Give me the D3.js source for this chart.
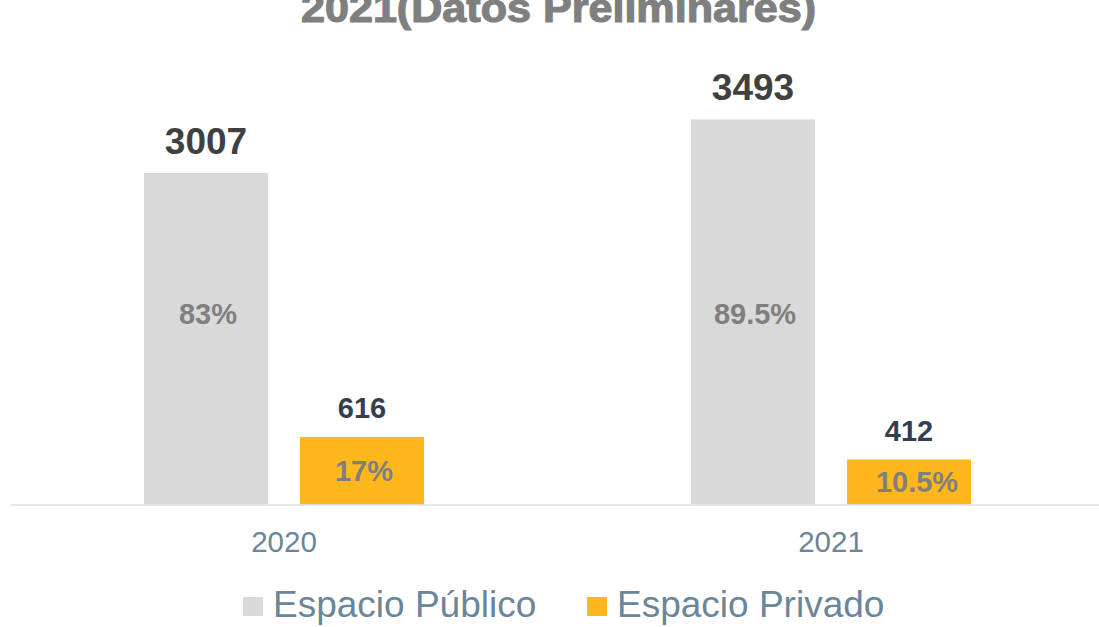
<!DOCTYPE html>
<html>
<head>
<meta charset="utf-8">
<script src="https://cdn.jsdelivr.net/npm/d3@7"></script>
<style>
  html, body { margin: 0; padding: 0; background: #ffffff; }
  svg { display: block; font-family: "Liberation Sans", Arial, sans-serif; }
</style>
</head>
<body>
<svg id="chart" width="1099" height="627"></svg>
<script>
// ---- data ----
const categories = ["2020", "2021"];
const seriesNames = ["Espacio Público", "Espacio Privado"];
const publicValues = [3007, 3493];
const privateValues = [616, 412];
const publicPct = ["83%", "89.5%"];
const privatePct = ["17%", "10.5%"];
const titleText = "2021(Datos Preliminares)";
const colors = ["#d9d9d9", "#ffb71b"];

// ---- layout ----
const W = 1099, H = 627;
const svg = d3.select("#chart");
const baseY = 505;

const x0 = d3.scaleBand().domain(categories).range([10.5, 1104.5]).padding(0);
const x1 = d3.scaleBand().domain(seriesNames).range([133.5, 413.5]).paddingInner(0.205).paddingOuter(0);
const y = d3.scaleLinear().domain([0, 4000]).range([baseY, baseY - 0.1104 * 4000]);

const rows = [];
categories.forEach((c, i) => {
  rows.push({cat: c, s: 0, v: publicValues[i], pct: publicPct[i]});
  rows.push({cat: c, s: 1, v: privateValues[i], pct: privatePct[i]});
});

// title (first line cut off above the frame, as in the reference)
svg.append("text")
  .attr("x", 558.5).attr("y", 22)
  .attr("text-anchor", "middle")
  .attr("font-size", 40).attr("font-weight", "bold")
  .attr("fill", "#7f7f7f").attr("stroke", "#7f7f7f").attr("stroke-width", 1.2)
  .attr("textLength", 515).attr("lengthAdjust", "spacingAndGlyphs")
  .text(titleText);

// bars
svg.append("g").selectAll("rect").data(rows).join("rect")
  .attr("x", d => x0(d.cat) + x1(seriesNames[d.s]))
  .attr("width", x1.bandwidth())
  .attr("y", d => y(d.v))
  .attr("height", d => y(0) - y(d.v))
  .attr("fill", d => colors[d.s]);

// axis baseline
const xAxis = d3.axisBottom(x0).tickSize(0).tickPadding(0);
const axisG = svg.append("g").attr("transform", `translate(0,${baseY})`).call(xAxis);
axisG.select(".domain").remove();
axisG.append("line").attr("x1", 11).attr("x2", W).attr("y1", 0).attr("y2", 0)
  .attr("stroke", "#dfe4e9").attr("stroke-width", 2).attr("opacity", 0.85);
axisG.selectAll(".tick text")
  .attr("y", 47).attr("dy", 0)
  .attr("font-size", 29.5).attr("fill", "#6b8599")
  .attr("font-family", "Liberation Sans, Arial, sans-serif");

// value labels
svg.append("g").selectAll("text").data(rows).join("text")
  .attr("x", d => x0(d.cat) + x1(seriesNames[d.s]) + x1.bandwidth() / 2)
  .attr("y", d => y(d.v) - 19)
  .attr("text-anchor", "middle")
  .attr("font-weight", "bold")
  .attr("font-size", d => d.s === 0 ? 37 : 29)
  .attr("fill", d => d.s === 0 ? "#404040" : "#323f4f")
  .text(d => d.v);

// percentage labels
const maxPublic = d3.max(publicValues);
svg.append("g").selectAll("text").data(rows).join("text")
  .attr("x", d => x0(d.cat) + x1(seriesNames[d.s]) + x1.bandwidth() / 2 + (d.s === 1 && d.pct.length > 3 ? 8 : 2))
  .attr("y", d => d.s === 0 ? (y(0) + y(maxPublic)) / 2 + 12 : (y(0) + y(d.v)) / 2 + 10)
  .attr("text-anchor", "middle")
  .attr("font-weight", "bold")
  .attr("font-size", 29)
  .attr("fill", "#7f7f7f")
  .text(d => d.pct);

// legend
const legendX = [243, 587];
const lg = svg.append("g").selectAll("g").data(seriesNames).join("g")
  .attr("transform", (d, i) => `translate(${legendX[i]},597)`);
lg.append("rect").attr("width", 20).attr("height", 19).attr("fill", (d, i) => colors[i]);
lg.append("text").attr("x", 30).attr("y", 20)
  .attr("font-size", 37).attr("fill", "#6b8599")
  .text(d => d);
</script>
</body>
</html>
